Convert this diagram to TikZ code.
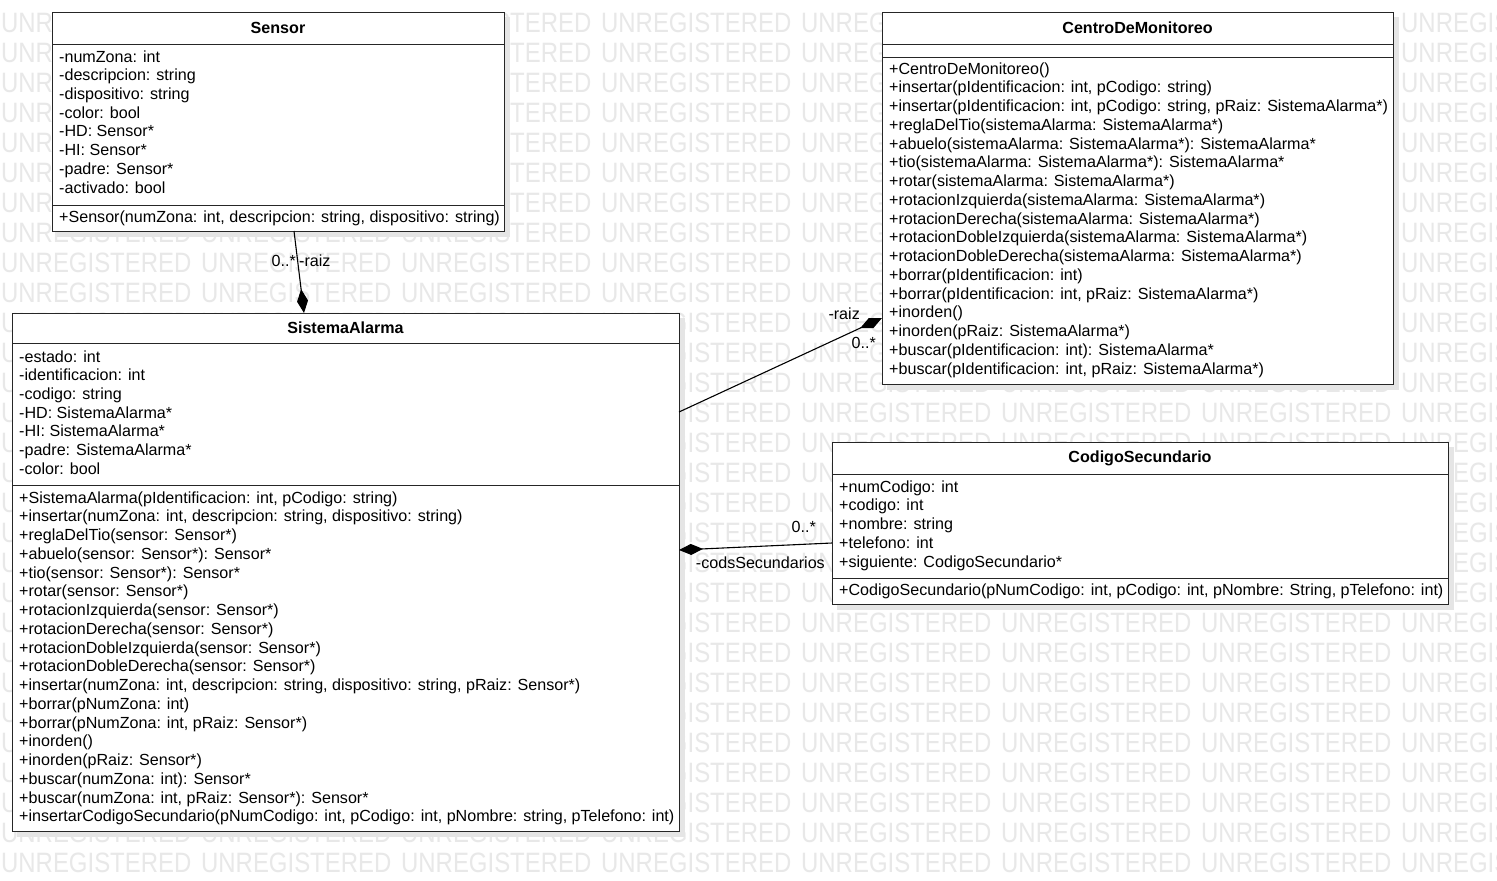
\documentclass[tikz,border=0pt]{standalone}
\usepackage{fontspec}
\setmainfont{Liberation Sans}
\usetikzlibrary{arrows.meta}
\begin{document}
\begin{tikzpicture}[x=1pt,y=-1pt,
  wm/.style={text=black!9,font=\fontsize{28}{28}\selectfont,xscale=0.855,anchor=base west,inner sep=0pt},
  cls/.style={draw=black!85,line width=1pt,fill=white,anchor=north west,inner sep=0pt},
  shad/.style={fill=black!10,draw=none},
  sep/.style={draw=black!85,line width=1pt},
  txt/.style={anchor=base west,inner sep=0pt,font=\fontsize{16.1}{18}\selectfont},
  ttl/.style={inner sep=0pt,font=\fontsize{16.1}{18}\selectfont\bfseries},
  lbl/.style={inner sep=0pt,font=\fontsize{16.1}{18}\selectfont},
  comp/.style={line width=1.1pt,-{Diamond[length=24pt,width=11pt,fill=black]}}]
\useasboundingbox (0,0) rectangle (1497,881);
\fill[white] (0,0) rectangle (1497,881);
% watermark (cells fully hidden behind the class boxes are left out)
\foreach \r in {0,...,28}{
  \foreach \c in {0,...,7}{
    \pgfmathtruncatemacro\hide{((\c==1) && (\r<=6)) || (((\c==1) || (\c==2)) && (\r>=11) && (\r<=26)) || (((\c==5) || (\c==6)) && ((\r<=11) || ((\r>=15) && (\r<=19))))}
    \ifnum\hide=0
      \node[wm] (wm-\r-\c) at (\c*200+1, 32+\r*30) {UNREGISTERED};
    \fi
  }
}
% shadows
\fill[shad] (57,17) rectangle (510,237);
\fill[shad] (17,318) rectangle (685,837);
\fill[shad] (887,17) rectangle (1399,390);
\fill[shad] (837,447) rectangle (1454,610);
% Sensor
\node[cls,minimum width=452pt,minimum height=219pt] (sensor) at (52,12) {};
\draw[sep] (52,44) -- (504,44);
\draw[sep] (52,205) -- (504,205);
\node[ttl] (sensor-t) at (278,28) {Sensor};
\foreach \t [count=\i] in {{-numZona: int},{-descripcion: string},{-dispositivo: string},{-color: bool},{-HD: Sensor*},{-HI: Sensor*},{-padre: Sensor*},{-activado: bool}}{
  \node[txt] (sensor-a\i) at (59,62+18.72*\i-18.72) {\t};
}
\node[txt] (sensor-o1) at (59,222) {+Sensor(numZona: int, descripcion: string, dispositivo: string)};
% SistemaAlarma
\node[cls,minimum width=667pt,minimum height=518pt] (sa) at (12,313) {};
\draw[sep] (12,343) -- (679,343);
\draw[sep] (12,485) -- (679,485);
\node[ttl] (sa-t) at (345.5,328) {SistemaAlarma};
\foreach \t [count=\i] in {{-estado: int},{-identificacion: int},{-codigo: string},{-HD: SistemaAlarma*},{-HI: SistemaAlarma*},{-padre: SistemaAlarma*},{-color: bool}}{
  \node[txt] (sa-a\i) at (19,362+18.72*\i-18.72) {\t};
}
\foreach \t [count=\i] in {{+SistemaAlarma(pIdentificacion: int, pCodigo: string)},{+insertar(numZona: int, descripcion: string, dispositivo: string)},{+reglaDelTio(sensor: Sensor*)},{+abuelo(sensor: Sensor*): Sensor*},{+tio(sensor: Sensor*): Sensor*},{+rotar(sensor: Sensor*)},{+rotacionIzquierda(sensor: Sensor*)},{+rotacionDerecha(sensor: Sensor*)},{+rotacionDobleIzquierda(sensor: Sensor*)},{+rotacionDobleDerecha(sensor: Sensor*)},{+insertar(numZona: int, descripcion: string, dispositivo: string, pRaiz: Sensor*)},{+borrar(pNumZona: int)},{+borrar(pNumZona: int, pRaiz: Sensor*)},{+inorden()},{+inorden(pRaiz: Sensor*)},{+buscar(numZona: int): Sensor*},{+buscar(numZona: int, pRaiz: Sensor*): Sensor*},{+insertarCodigoSecundario(pNumCodigo: int, pCodigo: int, pNombre: string, pTelefono: int)}}{
  \node[txt] (sa-o\i) at (19,503+18.76*\i-18.76) {\t};
}
% CentroDeMonitoreo
\node[cls,minimum width=511pt,minimum height=372pt] (cm) at (882,12) {};
\draw[sep] (882,44) -- (1393,44);
\draw[sep] (882,57) -- (1393,57);
\node[ttl] (cm-t) at (1137.5,28) {CentroDeMonitoreo};
\foreach \t [count=\i] in {{+CentroDeMonitoreo()},{+insertar(pIdentificacion: int, pCodigo: string)},{+insertar(pIdentificacion: int, pCodigo: string, pRaiz: SistemaAlarma*)},{+reglaDelTio(sistemaAlarma: SistemaAlarma*)},{+abuelo(sistemaAlarma: SistemaAlarma*): SistemaAlarma*},{+tio(sistemaAlarma: SistemaAlarma*): SistemaAlarma*},{+rotar(sistemaAlarma: SistemaAlarma*)},{+rotacionIzquierda(sistemaAlarma: SistemaAlarma*)},{+rotacionDerecha(sistemaAlarma: SistemaAlarma*)},{+rotacionDobleIzquierda(sistemaAlarma: SistemaAlarma*)},{+rotacionDobleDerecha(sistemaAlarma: SistemaAlarma*)},{+borrar(pIdentificacion: int)},{+borrar(pIdentificacion: int, pRaiz: SistemaAlarma*)},{+inorden()},{+inorden(pRaiz: SistemaAlarma*)},{+buscar(pIdentificacion: int): SistemaAlarma*},{+buscar(pIdentificacion: int, pRaiz: SistemaAlarma*)}}{
  \node[txt] (cm-o\i) at (889,74+18.75*\i-18.75) {\t};
}
% CodigoSecundario
\node[cls,minimum width=616pt,minimum height=162pt] (cs) at (832,442) {};
\draw[sep] (832,474) -- (1448,474);
\draw[sep] (832,578) -- (1448,578);
\node[ttl] (cs-t) at (1140,458) {CodigoSecundario};
\foreach \t [count=\i] in {{+numCodigo: int},{+codigo: int},{+nombre: string},{+telefono: int},{+siguiente: CodigoSecundario*}}{
  \node[txt] (cs-a\i) at (839,492+18.75*\i-18.75) {\t};
}
\node[txt] (cs-o1) at (839,595) {+CodigoSecundario(pNumCodigo: int, pCodigo: int, pNombre: String, pTelefono: int)};
% connectors
\coordinate (sensorB) at (294,231);
\coordinate (saT) at (304,313);
\coordinate (saR1) at (679,412);
\coordinate (cmL) at (882,318);
\coordinate (csL) at (832,543);
\coordinate (saR2) at (679,550);
\draw[comp] (sensorB) -- (saT);
\draw[comp] (saR1) -- (cmL);
\draw[comp] (csL) -- (saR2);
\node[lbl,anchor=east] (l1) at (296,261) {0..*};
\node[lbl,anchor=west] (l2) at (299,261) {-raiz};
\node[lbl,anchor=east] (l3) at (860,314) {-raiz};
\node[lbl,anchor=east] (l4) at (876,343) {0..*};
\node[lbl,anchor=east] (l5) at (816,527) {0..*};
\node[lbl,anchor=east] (l6) at (825,563) {-codsSecundarios};
\end{tikzpicture}
\end{document}
